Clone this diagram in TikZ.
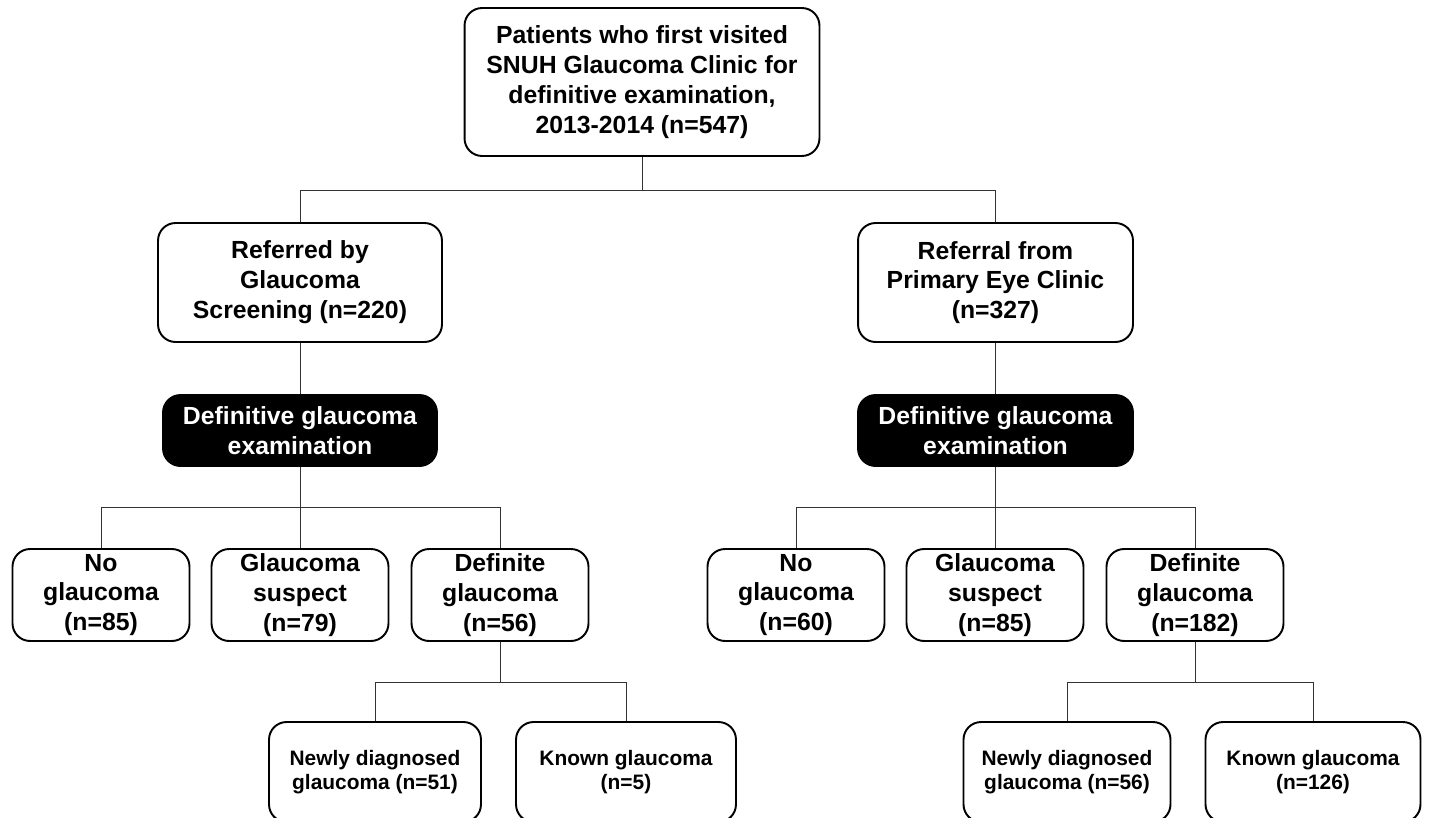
\documentclass[tikz,border=0pt]{standalone}
\usepackage{fontspec}
\setmainfont{Liberation Sans}
\begin{document}
\begin{tikzpicture}[x=0.02cm,y=-0.02cm]

      \useasboundingbox (0,0) rectangle (1434,818);

      \begin{scope}[every node/.style={draw,line width=1.1pt,rounded corners=10pt,
          align=center,inner sep=0pt,font=\bfseries\fontsize{14.1}{17}\selectfont}]
        \node[minimum width=7.1cm,minimum height=2.96cm] (all) at (642,82)
          {Patients who first visited\\SNUH Glaucoma Clinic for\\definitive examination,\\2013-2014 (n=547)};
        \node[minimum width=5.68cm,minimum height=2.38cm] (scr) at (300,282.5)
          {Referred by\\Glaucoma\\Screening (n=220)};
        \node[minimum width=5.5cm,minimum height=2.38cm] (ref) at (995.5,282.5)
          {Referral from\\Primary Eye Clinic\\(n=327)};
        \node[fill=black,text=white,minimum width=5.48cm,minimum height=1.42cm] (exS) at (300,430.5)
          {Definitive glaucoma\\examination};
        \node[fill=black,text=white,minimum width=5.5cm,minimum height=1.42cm] (exR) at (995.5,430.5)
          {Definitive glaucoma\\examination};
        \node[minimum width=3.54cm,minimum height=1.84cm] (noS)  at (101,595)  {No\\glaucoma\\(n=85)};
        \node[minimum width=3.54cm,minimum height=1.84cm] (susS) at (300,595)  {Glaucoma\\suspect\\(n=79)};
        \node[minimum width=3.54cm,minimum height=1.84cm] (defS) at (500,595)  {Definite\\glaucoma\\(n=56)};
        \node[minimum width=3.54cm,minimum height=1.84cm] (noR)  at (796,595)  {No\\glaucoma\\(n=60)};
        \node[minimum width=3.54cm,minimum height=1.84cm] (susR) at (995,595)  {Glaucoma\\suspect\\(n=85)};
        \node[minimum width=3.54cm,minimum height=1.84cm] (defR) at (1195,595) {Definite\\glaucoma\\(n=182)};
      \end{scope}

      \begin{scope}[every node/.style={draw,line width=1.1pt,rounded corners=10pt,
          align=center,inner sep=0pt,minimum height=2cm,font=\bfseries\fontsize{11.9}{13.7}\selectfont}]
        \node[minimum width=4.24cm] (newS) at (375,772)  {Newly diagnosed\\glaucoma (n=51)};
        \node[minimum width=4.4cm]  (knS)  at (626,772)  {Known glaucoma\\(n=5)};
        \node[minimum width=4.14cm] (newR) at (1067,772) {Newly diagnosed\\glaucoma (n=56)};
        \node[minimum width=4.3cm]  (knR)  at (1313,772) {Known glaucoma\\(n=126)};
      \end{scope}

      \coordinate (j0) at (642,190);
      \coordinate (j1) at (300,507);
      \coordinate (j2) at (995.5,507);
      \coordinate (j3) at (500,682);
      \coordinate (j4) at (1195,682);

      \begin{scope}[line width=0.5pt,draw=black!80]
        \draw (all) -- (j0);
        \draw (j0) -| (scr);
        \draw (j0) -| (ref);
        \draw (scr) -- (exS);
        \draw (ref) -- (exR);
        \draw (exS) -- (j1);
        \draw (exR) -- (j2);
        \draw (j1) -| (noS);
        \draw (j1) -- (susS);
        \draw (j1) -| (defS);
        \draw (j2) -| (noR);
        \draw (j2) -| (susR);
        \draw (j2) -| (defR);
        \draw (defS) -- (j3);
        \draw (defR) -- (j4);
        \draw (j3) -| (newS);
        \draw (j3) -| (knS);
        \draw (j4) -| (newR);
        \draw (j4) -| (knR);
      \end{scope}

    \end{tikzpicture}
\end{document}
